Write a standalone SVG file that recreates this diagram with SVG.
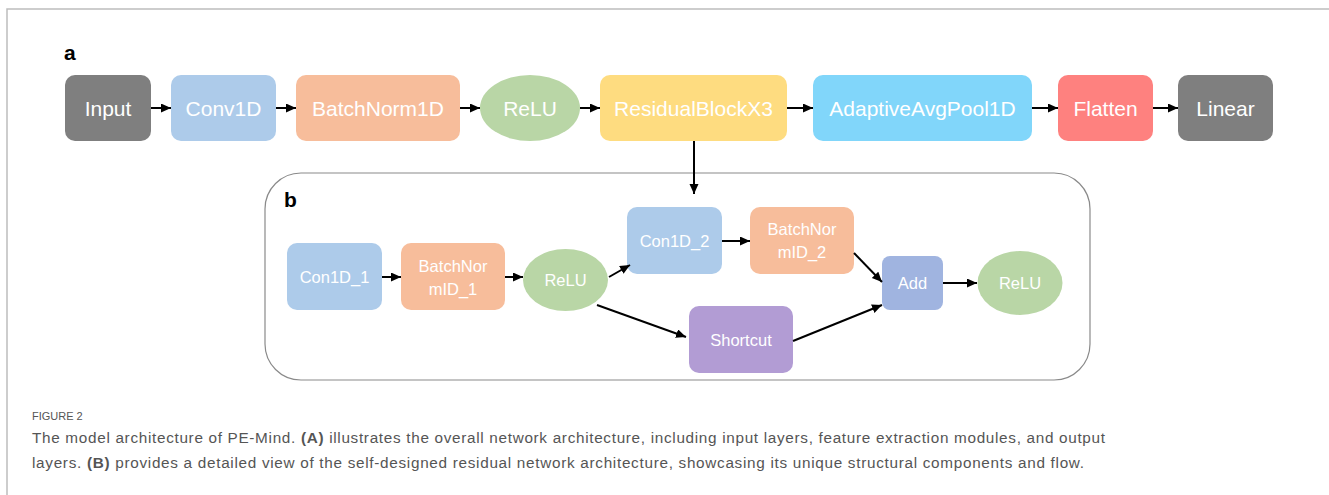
<svg xmlns="http://www.w3.org/2000/svg" width="1329" height="495" viewBox="0 0 1329 495">
<style>
.lbl{font-family:"Liberation Sans",Arial,sans-serif;fill:#ffffff;text-anchor:middle}
.big{font-size:21px}
.sm{font-size:16.5px}
.pl{font-family:"Liberation Sans",Arial,sans-serif;font-weight:bold;font-size:21px;fill:#000}
.cap{font-family:"Liberation Sans",Arial,sans-serif;fill:#555;font-size:15.3px}
.conn line{stroke:#000;stroke-width:2;marker-end:url(#ah)}
</style>
<defs>
<marker id="ah" markerUnits="userSpaceOnUse" markerWidth="12" markerHeight="10" refX="10" refY="4.5" orient="auto">
<path d="M0,0 L10,4.5 L0,9 Z" fill="#000"/>
</marker>
</defs>
<rect width="1329" height="495" fill="#fff"/>
<path d="M7,495 V9 H1329" fill="none" stroke="#bdbdbd" stroke-width="1.5"/>
<text class="pl" x="64" y="60">a</text>
<g id="input"><rect x="65" y="75" width="86" height="66" rx="10" fill="#7f7f7f"/><text class="lbl big" x="108" y="115.5">Input</text></g>
<g id="conv1d"><rect x="171" y="75" width="105" height="66" rx="10" fill="#adcbea"/><text class="lbl big" x="223.5" y="115.5">Conv1D</text></g>
<g id="batchnorm1d"><rect x="296" y="75" width="164" height="66" rx="10" fill="#f7bd9b"/><text class="lbl big" x="378" y="115.5">BatchNorm1D</text></g>
<g id="relu_a"><ellipse cx="530" cy="108" rx="50" ry="33" fill="#b9d6a6"/><text class="lbl big" x="530" y="115.5">ReLU</text></g>
<g id="residual"><rect x="600" y="75" width="187" height="66" rx="10" fill="#fedc80"/><text class="lbl big" x="693.5" y="115.5">ResidualBlockX3</text></g>
<g id="adaptive"><rect x="813" y="75" width="219" height="66" rx="10" fill="#81d6fa"/><text class="lbl big" x="922.5" y="115.5">AdaptiveAvgPool1D</text></g>
<g id="flatten"><rect x="1058" y="75" width="95" height="66" rx="10" fill="#fe817f"/><text class="lbl big" x="1105.5" y="115.5">Flatten</text></g>
<g id="linear"><rect x="1178" y="75" width="95" height="66" rx="10" fill="#7f7f7f"/><text class="lbl big" x="1225.5" y="115.5">Linear</text></g>
<g id="panel_b"><rect x="265" y="173" width="825" height="207" rx="36" fill="none" stroke="#8a8a8a" stroke-width="1.2"/><text class="pl" x="284" y="207">b</text></g>
<g id="con1d_1"><rect x="287" y="243" width="95" height="67" rx="10" fill="#adcbea"/><text class="lbl sm" x="334.5" y="282.5">Con1D_1</text></g>
<g id="bn_1"><rect x="401" y="243" width="104" height="67" rx="10" fill="#f7bd9b"/><text class="lbl sm" x="453" y="272">BatchNor</text><text class="lbl sm" x="453" y="295">mID_1</text></g>
<g id="relu_b1"><ellipse cx="565.5" cy="280" rx="42.5" ry="31" fill="#b9d6a6"/><text class="lbl sm" x="565.5" y="286">ReLU</text></g>
<g id="con1d_2"><rect x="627" y="207" width="95" height="67" rx="10" fill="#adcbea"/><text class="lbl sm" x="674.5" y="246.5">Con1D_2</text></g>
<g id="bn_2"><rect x="750" y="207" width="104" height="67" rx="10" fill="#f7bd9b"/><text class="lbl sm" x="802" y="235">BatchNor</text><text class="lbl sm" x="802" y="258">mID_2</text></g>
<g id="add"><rect x="882" y="256" width="61" height="54" rx="8" fill="#a0b4e0"/><text class="lbl sm" x="912.5" y="289">Add</text></g>
<g id="relu_b2"><ellipse cx="1020" cy="283" rx="42.5" ry="32" fill="#b9d6a6"/><text class="lbl sm" x="1020" y="289">ReLU</text></g>
<g id="shortcut"><rect x="689" y="306" width="104" height="67" rx="10" fill="#b29cd4"/><text class="lbl sm" x="741" y="345.5">Shortcut</text></g>
<g id="connectors" class="conn">
<line x1="151" y1="108" x2="171" y2="108"/>
<line x1="276" y1="108" x2="296" y2="108"/>
<line x1="460" y1="108" x2="480" y2="108"/>
<line x1="580" y1="108" x2="600" y2="108"/>
<line x1="787" y1="108" x2="813" y2="108"/>
<line x1="1032" y1="108" x2="1058" y2="108"/>
<line x1="1153" y1="108" x2="1178" y2="108"/>
<line x1="694" y1="141" x2="694" y2="194"/>
<line x1="382" y1="277" x2="401" y2="277"/>
<line x1="505" y1="277" x2="523" y2="277"/>
<line x1="609" y1="277" x2="630" y2="265"/>
<line x1="597" y1="305" x2="686" y2="337"/>
<line x1="722" y1="241" x2="750" y2="241"/>
<line x1="854" y1="253" x2="882" y2="282"/>
<line x1="793" y1="341" x2="882" y2="305"/>
<line x1="943" y1="283" x2="977" y2="283"/>
</g>
<text class="cap" x="32" y="420" style="font-size:11px">FIGURE 2</text>
<text class="cap" x="32" y="443" textLength="1073" lengthAdjust="spacing">The model architecture of PE-Mind. <tspan font-weight="bold">(A)</tspan> illustrates the overall network architecture, including input layers, feature extraction modules, and output</text>
<text class="cap" x="32" y="468" textLength="1052" lengthAdjust="spacing">layers. <tspan font-weight="bold">(B)</tspan> provides a detailed view of the self-designed residual network architecture, showcasing its unique structural components and flow.</text>
</svg>
